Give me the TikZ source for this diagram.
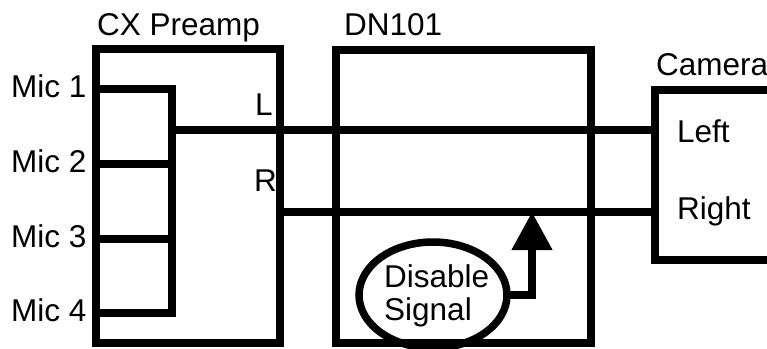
\documentclass[tikz,border=0pt]{standalone}
\usepackage{fontspec}
\setmainfont{Liberation Sans}
\usetikzlibrary{arrows.meta,shapes.geometric}
\begin{document}
\begin{tikzpicture}[x=1pt,y=-1pt,
  box/.style={draw,line width=7.5pt,inner sep=0pt,outer sep=0pt},
  wire/.style={line width=7.5pt},
  lbl/.style={inner sep=0pt,anchor=base west,font=\fontsize{31.5}{36}\selectfont}]
\useasboundingbox (0,0) rectangle (767,348);
\clip (0,0) rectangle (767,348);
\node[box,minimum width=184pt,minimum height=294pt] (cx) at (188,196) {};
\node[box,minimum width=255pt,minimum height=293pt] (dn) at (463.5,196.5) {};
\node[box,minimum width=145pt,minimum height=170pt] (cam) at (727.5,175) {};
\node[box,ellipse,minimum width=148pt,minimum height=106pt] (dis) at (433,295) {};
\node[lbl] (tcx) at (97,35) {CX Preamp};
\node[lbl] (tdn) at (344,35) {DN101};
\node[lbl] (tcam) at (656,75) {Camera};
\node[lbl] (m1t) at (11,97) {Mic 1};
\node[lbl] (m2t) at (11,172) {Mic 2};
\node[lbl] (m3t) at (11,247) {Mic 3};
\node[lbl] (m4t) at (11,321) {Mic 4};
\node[lbl] (tl) at (255,115) {L};
\node[lbl] (tr) at (254,191) {R};
\node[lbl] (tleft) at (677,142) {Left};
\node[lbl] (tright) at (677,219) {Right};
\node[lbl] (td1) at (384,287) {Disable};
\node[lbl] (td2) at (384,320) {Signal};
\coordinate (m1) at (96,89);
\coordinate (m2) at (96,164);
\coordinate (m3) at (96,239);
\coordinate (m4) at (96,313);
\coordinate (b1) at (172,89);
\coordinate (b2) at (172,164);
\coordinate (b3) at (172,239);
\coordinate (b4) at (172,313);
\coordinate (jl) at (172,130);
\coordinate (rs) at (280,212);
\coordinate (tip) at (532,212);
\draw[wire] (m1) -- (b1) -- (b4) -- (m4);
\draw[wire] (m2) -- (b2);
\draw[wire] (m3) -- (b3);
\draw[wire] (jl) -- (jl -| cam.west);
\draw[wire] (rs) -- (rs -| cam.west);
\draw[wire,-{Triangle[width=39pt,length=38pt]}] (dis.east) -| (tip);
\end{tikzpicture}
\end{document}
